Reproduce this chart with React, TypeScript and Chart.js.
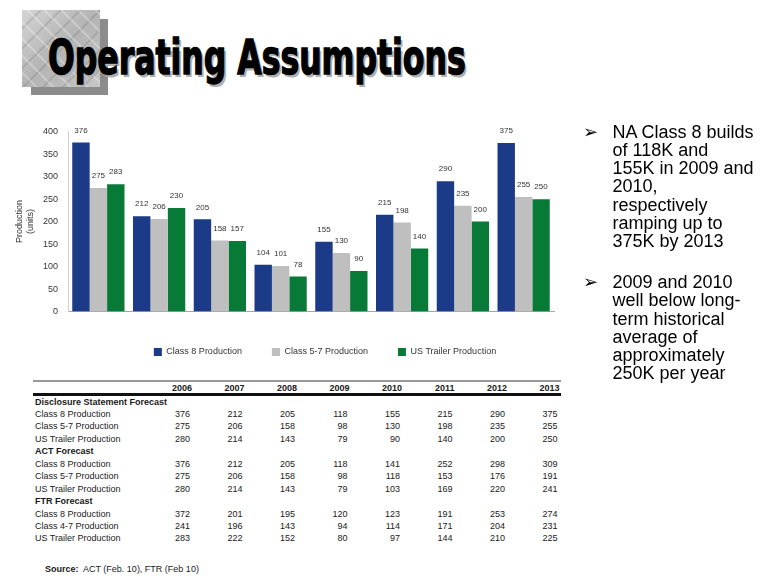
import React, { useEffect, useLayoutEffect, useRef, useState } from 'react';
import { Chart, registerables } from 'chart.js';

Chart.register(...registerables);

const FONT = '"Liberation Sans", Arial, Helvetica, sans-serif';

// ---- chart data ----
const categories = ['2006', '2007', '2008', '2009', '2010', '2011', '2012', '2013'];
const class8Production = [376, 212, 205, 104, 155, 215, 290, 375];
const class57Production = [275, 206, 158, 101, 130, 198, 235, 255];
const usTrailerProduction = [283, 230, 157, 78, 90, 140, 200, 250];
const seriesNames = ['Class 8 Production', 'Class 5-7 Production', 'US Trailer Production'];
const seriesColors = ['#1B3A87', '#BFBFBF', '#087A37'];
const yAxisTitle = ['Production', '(units)'];
const yMin = 0;
const yMax = 400;
const yStep = 50;

// ---- table data ----
const tableYears = ['2006', '2007', '2008', '2009', '2010', '2011', '2012', '2013'];
const dsClass8 = [376, 212, 205, 118, 155, 215, 290, 375];
const dsClass57 = [275, 206, 158, 98, 130, 198, 235, 255];
const dsTrailer = [280, 214, 143, 79, 90, 140, 200, 250];
const actClass8 = [376, 212, 205, 118, 141, 252, 298, 309];
const actClass57 = [275, 206, 158, 98, 118, 153, 176, 191];
const actTrailer = [280, 214, 143, 79, 103, 169, 220, 241];
const ftrClass8 = [372, 201, 195, 120, 123, 191, 253, 274];
const ftrClass47 = [241, 196, 143, 94, 114, 171, 204, 231];
const ftrTrailer = [283, 222, 152, 80, 97, 144, 210, 225];

const tableRows: { label: string; values?: number[] }[] = [
  { label: 'Disclosure Statement Forecast' },
  { label: 'Class 8 Production', values: dsClass8 },
  { label: 'Class 5-7 Production', values: dsClass57 },
  { label: 'US Trailer Production', values: dsTrailer },
  { label: 'ACT Forecast' },
  { label: 'Class 8 Production', values: actClass8 },
  { label: 'Class 5-7 Production', values: actClass57 },
  { label: 'US Trailer Production', values: actTrailer },
  { label: 'FTR Forecast' },
  { label: 'Class 8 Production', values: ftrClass8 },
  { label: 'Class 4-7 Production', values: ftrClass47 },
  { label: 'US Trailer Production', values: ftrTrailer },
];

const bullet1 = ['NA Class 8 builds', 'of 118K and', '155K in 2009 and', '2010,', 'respectively', 'ramping up to', '375K by 2013'];
const bullet2 = ['2009 and 2010', 'well below long-', 'term historical', 'average of', 'approximately', '250K per year'];

const titleText = 'Operating Assumptions';

const valueLabels = {
  id: 'valueLabels',
  afterDatasetsDraw(chart: any) {
    const ctx = chart.ctx;
    ctx.save();
    ctx.font = '8px ' + FONT;
    ctx.fillStyle = '#333333';
    ctx.textAlign = 'center';
    ctx.textBaseline = 'middle';
    chart.data.datasets.forEach((ds: any, i: number) => {
      const meta = chart.getDatasetMeta(i);
      meta.data.forEach((bar: any, j: number) => {
        ctx.fillText(String(ds.data[j]), bar.x, bar.y - 12);
      });
    });
    ctx.restore();
  },
};

function BarChart() {
  const ref = useRef<HTMLCanvasElement>(null);
  useEffect(() => {
    if (!ref.current) return;
    Chart.defaults.font.family = FONT;
    const chart = new Chart(ref.current, {
      type: 'bar',
      data: {
        labels: categories,
        datasets: [
          { label: seriesNames[0], data: class8Production, backgroundColor: seriesColors[0], yAxisID: 'y' },
          { label: seriesNames[1], data: class57Production, backgroundColor: seriesColors[1], yAxisID: 'y' },
          { label: seriesNames[2], data: usTrailerProduction, backgroundColor: seriesColors[2], yAxisID: 'y' },
        ],
      },
      options: {
        responsive: false,
        animation: false,
        layout: { padding: { left: 10, right: 0, top: 21.7, bottom: 8.5 } },
        datasets: { bar: { categoryPercentage: 0.86, barPercentage: 1.0 } } as any,
        plugins: {
          legend: {
            position: 'bottom',
            labels: {
              boxWidth: 8,
              boxHeight: 8,
              padding: 30,
              color: '#333333',
              font: { size: 9, family: FONT },
            },
          },
          tooltip: { enabled: false },
        },
        scales: {
          x: {
            grid: { display: false, drawTicks: false },
            border: { color: '#a6a6a6', width: 1 },
            ticks: { color: '#333333', font: { size: 9, family: FONT }, padding: 6 },
            afterFit: (s: any) => { s.height = 6; },
          },
          y: {
            min: yMin,
            max: yMax,
            ticks: { stepSize: yStep, color: '#333333', font: { size: 9, family: FONT }, padding: 10 },
            grid: { display: false, drawTicks: false },
            border: { color: '#d0d0d0', width: 1 },
            title: { display: true, text: yAxisTitle, color: '#333333', font: { size: 9, family: FONT }, padding: { top: 4, bottom: 0 } },
            afterFit: (s: any) => { s.width = 58; },
          },
          y2: {
            position: 'right',
            display: true,
            grid: { display: false, drawTicks: false },
            ticks: { display: false },
            border: { display: false },
            afterFit: (s: any) => { s.width = 86; },
          },
        } as any,
      },
      plugins: [valueLabels],
    });
    return () => chart.destroy();
  }, []);
  return (
    <div style={{ position: 'absolute', left: 0, top: 110, width: 640, height: 265 }}>
      <canvas ref={ref} width={640} height={265} style={{ display: 'block', width: 640, height: 265 }} />
    </div>
  );
}

function Title() {
  const ref = useRef<HTMLSpanElement>(null);
  const [scale, setScale] = useState(1);
  useLayoutEffect(() => {
    if (ref.current) {
      const w = ref.current.offsetWidth;
      if (w > 0) setScale(418 / w);
    }
  }, []);
  return (
    <span
      ref={ref}
      style={{
        position: 'absolute',
        left: 48,
        top: 33,
        fontFamily: '"DejaVu Sans Condensed", "DejaVu Sans", sans-serif',
        fontWeight: 'bold',
        fontSize: 48,
        lineHeight: '48px',
        whiteSpace: 'nowrap',
        color: '#000',
        WebkitTextStroke: '1.4px #000',
        textShadow: '3px 3px 0 #b0b0b0',
        transform: `scaleX(${scale})`,
        transformOrigin: 'left top',
      }}
    >
      {titleText}
    </span>
  );
}

function Table() {
  const headerY = 387.5;
  const firstRowY = 401.5;
  const pitch = 12.45;
  const colRight = (i: number) => 192 + 52.5 * i;
  const cellStyle = (cy: number): React.CSSProperties => ({
    position: 'absolute',
    top: cy - 6,
    height: 12,
    lineHeight: '12px',
    fontSize: 9,
    fontFamily: FONT,
    color: '#1a1a1a',
    whiteSpace: 'nowrap',
  });
  const cells: React.ReactNode[] = [];
  tableYears.forEach((y, i) => {
    cells.push(
      <div key={'h' + i} style={{ ...cellStyle(headerY), right: 780 - colRight(i), fontWeight: 'bold', textAlign: 'right' }}>{y}</div>
    );
  });
  tableRows.forEach((row, r) => {
    const cy = firstRowY + pitch * r;
    cells.push(
      <div key={'l' + r} style={{ ...cellStyle(cy), left: 35, fontWeight: row.values ? 'normal' : 'bold' }}>{row.label}</div>
    );
    if (row.values) {
      row.values.forEach((v, i) => {
        cells.push(
          <div key={'v' + r + '_' + i} style={{ ...cellStyle(cy), right: 780 - (colRight(i) - 2), textAlign: 'right' }}>{v}</div>
        );
      });
    }
  });
  return (
    <>
      <div style={{ position: 'absolute', left: 33, top: 380, width: 528, height: 2, background: '#9a9a9a' }} />
      <div style={{ position: 'absolute', left: 33, top: 393, width: 528, height: 2.5, background: '#111' }} />
      {cells}
      <div style={{ ...cellStyle(569), left: 45 }}>
        <b>Source:</b>&nbsp; ACT (Feb. 10), FTR (Feb 10)
      </div>
    </>
  );
}

function Bullets() {
  const textStyle = (top: number): React.CSSProperties => ({
    position: 'absolute',
    left: 612.5,
    top,
    fontFamily: FONT,
    fontSize: 18,
    lineHeight: '18.3px',
    color: '#000',
    whiteSpace: 'nowrap',
  });
  const arrowStyle = (top: number): React.CSSProperties => ({
    position: 'absolute',
    left: 583,
    top,
    fontFamily: '"DejaVu Sans", sans-serif',
    fontSize: 18,
    lineHeight: '18.3px',
    color: '#000',
  });
  return (
    <>
      <div style={arrowStyle(122.5)}>➢</div>
      <div style={textStyle(122.5)}>
        {bullet1.map((l, i) => <div key={i}>{l}</div>)}
      </div>
      <div style={arrowStyle(273)}>➢</div>
      <div style={textStyle(273)}>
        {bullet2.map((l, i) => <div key={i}>{l}</div>)}
      </div>
    </>
  );
}

export default function App() {
  return (
    <div style={{ position: 'absolute', left: 0, top: 0, width: 780, height: 585, background: '#fff', overflow: 'hidden' }}>
      <div style={{ position: 'absolute', left: 31, top: 19, width: 77, height: 76, background: '#8c8c8c' }} />
      <div
        style={{
          position: 'absolute',
          left: 22,
          top: 10,
          width: 78,
          height: 77,
          background:
            'repeating-linear-gradient(45deg, rgba(255,255,255,0) 0px, rgba(255,255,255,0) 9px, rgba(255,255,255,0.35) 10px, rgba(255,255,255,0) 12px), repeating-linear-gradient(-45deg, rgba(90,90,90,0) 0px, rgba(90,90,90,0) 11px, rgba(90,90,90,0.25) 12px, rgba(90,90,90,0) 14px), linear-gradient(135deg, #d4d4d4 0%, #b4b4b4 50%, #c6c6c6 100%)',
        }}
      />
      <Title />
      <BarChart />
      <Table />
      <Bullets />
    </div>
  );
}
